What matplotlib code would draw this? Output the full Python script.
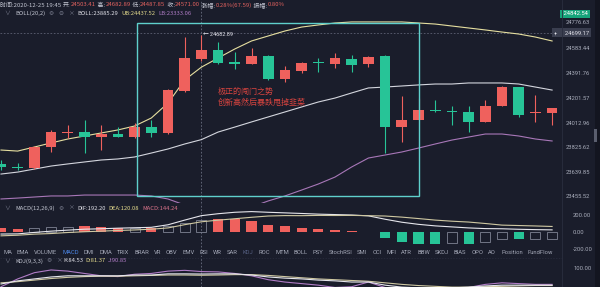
import matplotlib
matplotlib.use("Agg")
import matplotlib.pyplot as plt
from matplotlib.patches import Rectangle
from matplotlib.lines import Line2D

plt.rcParams['font.family'] = ['Roboto', 'Noto Sans CJK SC', 'DejaVu Sans']
CJK = ['Noto Sans CJK SC', 'DejaVu Sans']

# ---------------- data ----------------
opens = [23700, 23680, 23669, 23829, 23936, 23943, 23905, 23928, 23905, 23981,
         23936, 24256, 24503.41, 24568, 24477, 24462, 24523, 24347, 24408, 24472,
         24462, 24500, 24462, 24523, 23981, 24035, 24106, 24099, 24096, 24020,
         24141, 24286, 24085, 24088]
highs = [23730, 23707, 23835, 23958, 23997, 24035, 23997, 23981, 24012, 24035,
         24270, 24670, 24682.89, 24629, 24553, 24583, 24530, 24446, 24477, 24507,
         24545, 24530, 24520, 24530, 24218, 24202, 24187, 24141, 24141, 24187,
         24295, 24290, 24225, 24126]
lows = [23654, 23654, 23660, 23791, 23898, 23783, 23806, 23905, 23898, 23905,
        23930, 24250, 24487.85, 24462, 24423, 24462, 24340, 24324, 24393, 24400,
        24431, 24400, 24440, 23783, 23867, 24035, 24096, 23997, 23943, 24020,
        24141, 24058, 24020, 23997]
closes = [23676, 23672, 23829, 23943, 23946, 23905, 23928, 23905, 23981, 23936,
          24263, 24507, 24571.00, 24469, 24462, 24523, 24347, 24416, 24469, 24466,
          24507, 24454, 24515, 23981, 24035, 24111, 24100, 24094, 24020, 24141,
          24286, 24073, 24091, 24126]

boll_ub = [23806, 23798, 23829, 23860, 23890, 23913, 23936, 23959, 23989, 24050,
           24164, 24340, 24437.52, 24507, 24576, 24637, 24675, 24713, 24743, 24759,
           24774, 24782, 24782, 24782, 24782, 24774, 24766, 24751, 24736, 24721,
           24705, 24690, 24667, 24637]
boll_mid = [23623, 23638, 23661, 23684, 23700, 23715, 23730, 23738, 23753, 23783,
            23814, 23852, 23885.29, 23943, 23981, 24020, 24058, 24096, 24134, 24172,
            24202, 24241, 24279, 24286, 24294, 24302, 24309, 24309, 24317, 24317,
            24317, 24309, 24286, 24263]
boll_lb = [23433, 23440, 23448, 23456, 23456, 23463, 23463, 23463, 23463, 23456,
           23433, 23387, 23333.06, 23318, 23333, 23372, 23418, 23456, 23501, 23547,
           23600, 23677, 23745, 23768, 23791, 23821, 23852, 23882, 23905, 23928,
           23928, 23913, 23890, 23875]

price_ticks = [24583.44, 24391.76, 24201.57, 24012.96, 23825.62, 23639.85, 23455.52]
last_price = 24842.54
cross_price = 24776.63
line_price = 24699.17
peak_price = 24682.89
cross_index = 12

dif = [-24, -22, -5, 10, 22, 33, 38, 45, 50, 55, 85, 140, 192.20, 215, 232, 240,
       232, 225, 218, 210, 205, 200, 190, 150, 115, 90, 72, 60, 48, 40, 38, 32, 28, 25]
dea = [-45, -38, -25, -18, -6, 3, 10, 18, 24, 33, 48, 86, 120.08, 139, 156, 173,
       188, 193, 192, 195, 194, 195, 192, 188, 175, 158, 140, 127, 117, 100, 81, 76, 71, 65]
macd_hist = [43, 30, 43, 56, 56, 65, 56, 52, 52, 43, 74, 108, 144.24, 152, 152, 130,
             87, 65, 52, 30, 22, 9, -4, -74, -121, -137, -137, -134, -138, -121,
             -86, -88, -86, -79]
hist_hollow = [False, False, True, True, True, False, False, False, True, False,
               True, True, True, False, False, False, False, False, False, False,
               False, False, False, False, False, False, False, True, False, True,
               True, False, True, True]
macd_ticks = [200, 0, -200]

k_vals = [59, 67, 72, 77, 80, 80, 80, 80, 82, 82, 85, 85, 84.53, 85, 85, 82, 77,
          74, 72, 69, 67, 64, 64, 56, 51, 49, 49, 49, 51, 54, 56, 56, 56, 56]
d_vals = [62, 65, 69, 73, 76, 78, 79, 79, 80, 81, 82, 82, 81.37, 82, 83, 83, 81,
          78, 75, 72, 70, 68, 66, 62, 58, 55, 53, 51, 51, 52, 53, 54, 55, 55]
j_vals = [52, 72, 88, 95, 92, 86, 80, 78, 84, 86, 92, 94, 90.85, 90, 86, 80, 70,
          64, 60, 56, 50, 52, 64, 50, 42, 40, 42, 45, 50, 58, 62, 60, 58, 58]
kdj_ticks = [100]

indicator_tabs = ["MA", "EMA", "VOLUME", "MACD", "DMI", "DMA", "TRIX", "BRAR", "VR",
                  "OBV", "EMV", "RSI", "WR", "SAR", "KDJ", "ROC", "MTM", "BOLL", "PSY",
                  "StochRSI", "SMI", "CCI", "MFI", "ATR", "BBW", "SKDJ", "BIAS", "OPO",
                  "AO", "Position", "FundFlow"]

note_lines = ["极正的闯门之势", "创新高然后暴跌甩掉韭菜"]
# drawn box: candle-index span and price span
box_x = (8.14, 25.03)
box_y = (23455.5, 24774.0)

# ---------------- style ----------------
BG = '#1a1d2b'
UP = '#ef615d'
DOWN = '#27c497'
GREY = '#a9adbb'
WHITE = '#e2e2ea'
YELLOW = '#e2d98c'
PURPLE = '#b07cc6'
W, H = 600, 287

fig = plt.figure(figsize=(6, 2.87), dpi=100, facecolor=BG)


def px_axes(x0, y0, x1, y1):
    ax = fig.add_axes([x0 / W, 1 - y1 / H, (x1 - x0) / W, (y1 - y0) / H])
    ax.set_facecolor(BG)
    for s in ax.spines.values():
        s.set_visible(False)
    return ax


xlim = (-1 / 16.7, 561 / 16.7)
xs = list(range(len(opens)))

# ---------------- main candle panel ----------------
ax = px_axes(0, 0, 562, 203)
ax.set_xlim(*xlim)
ax.set_ylim(24583.44 - 155 * 7.62, 24583.44 + 48 * 7.62)
ax.set_xticks([])

ax.plot(xs, boll_ub, color='#e6dfa0', lw=0.8, zorder=2)
ax.plot(xs, boll_mid, color='#d4d6de', lw=0.8, zorder=2)
ax.plot(xs, boll_lb, color='#a877b8', lw=0.8, zorder=2)

for i in xs:
    o, h, l, c = opens[i], highs[i], lows[i], closes[i]
    col = UP if c >= o else DOWN
    ax.vlines(i, l, h, color=col, lw=0.8, zorder=3)
    body = max(abs(c - o), 8)
    ax.bar(i, body, bottom=min(o, c), width=0.64, color=col, zorder=4, linewidth=0)

ax.axhline(line_price, color='#5d6173', lw=0.6, ls=(0, (2, 2)), zorder=1)
ax.add_patch(Rectangle((box_x[0], box_y[0]), box_x[1] - box_x[0], box_y[1] - box_y[0],
                       fill=False, ec='#5fd0cc', lw=1.0, zorder=5))
ax.text(cross_index + 0.1, peak_price, '← ' + f'{peak_price:.2f}', fontsize=4,
        color=WHITE, va='center', ha='left', zorder=6)
ax.text(13.0, 24256, note_lines[0], fontsize=5.8, color='#d8443f',
        family=CJK, va='center', zorder=6)
ax.text(13.0, 24172, note_lines[1], fontsize=5.8, color='#d8443f',
        family=CJK, va='center', zorder=6)

ax.yaxis.tick_right()
ax.set_yticks(price_ticks)
ax.set_yticklabels([f'{v:.2f}' for v in price_ticks])
ax.tick_params(axis='y', length=0, pad=3, labelsize=4.2, labelcolor=GREY)

ytr = ax.get_yaxis_transform()
ax.text(1.0, last_price, ' ' + f'{last_price:.2f}', transform=ytr, fontsize=4.2,
        color='white', va='center', ha='left', clip_on=False,
        bbox=dict(boxstyle='square,pad=0.3', fc='#17a47b', ec='none'))
ax.text(1.006, cross_price, f'{cross_price:.2f}', transform=ytr, fontsize=4.2,
        color=GREY, va='center', ha='left', clip_on=False)
ax.text(0.985, line_price, '+     ' + f'{line_price:.2f}', transform=ytr, fontsize=4.2,
        color=WHITE, va='center', ha='left', clip_on=False, zorder=7,
        bbox=dict(boxstyle='square,pad=0.35', fc='#3a3e4f', ec='none'))

# ---------------- MACD panel ----------------
mx = px_axes(0, 203, 562, 257)
mx.set_xlim(*xlim)
mx.set_ylim((232 - 257) * 11.76, (232 - 203) * 11.76)
mx.set_xticks([])
for i in xs:
    v = macd_hist[i]
    base = UP if v >= 0 else DOWN
    if hist_hollow[i]:
        mx.bar(i, v, width=0.6, fill=False, ec='#7f8394', lw=0.6, zorder=3)
    else:
        mx.bar(i, v, width=0.6, color=base, lw=0, zorder=3)
mx.plot(xs, dif, color='#e6e6ec', lw=0.8, zorder=4)
mx.plot(xs, dea, color='#cfc8a2', lw=0.8, zorder=4)
mx.yaxis.tick_right()
mx.set_yticks(macd_ticks)
mx.set_yticklabels([f'{v:.2f}' for v in macd_ticks])
mx.tick_params(axis='y', length=0, pad=8, labelsize=4.2, labelcolor=GREY)

# ---------------- KDJ panel ----------------
kx = px_axes(0, 257, 562, 287)
kx.set_xlim(*xlim)
kx.set_ylim(100 - 19 / 0.39, 100 + 11 / 0.39)
kx.set_xticks([])
kx.plot(xs, j_vals, color=PURPLE, lw=0.8)
kx.plot(xs, d_vals, color='#cfc8a2', lw=0.8)
kx.plot(xs, k_vals, color='#e6e6ec', lw=0.8)
kx.yaxis.tick_right()
kx.set_yticks(kdj_ticks)
kx.set_yticklabels([f'{v:.2f}' for v in kdj_ticks])
kx.tick_params(axis='y', length=0, pad=8, labelsize=4.2, labelcolor=GREY)

for a in (ax, mx, kx):
    a.axvline(cross_index, color='#6b6f82', lw=0.6, ls=(0, (2, 2)), zorder=1)

# ---------------- frame pieces ----------------
fig.add_artist(Line2D([562 / W, 562 / W], [0, 1], color='#2a2e3f', lw=0.6))
fig.add_artist(Line2D([0, 562 / W], [1 - 257.5 / H, 1 - 257.5 / H], color='#2a2e3f', lw=0.5,
                      ls=(0, (2, 2))))
fig.add_artist(Rectangle((595 / W, 0), 5 / W, 1, transform=fig.transFigure,
                         fc='#131520', ec='none'))
fig.add_artist(Rectangle((594 / W, 1 - 142 / H), 3 / W, 13 / H, transform=fig.transFigure,
                         fc='#5a5e6e', ec='none'))

renderer = fig.canvas.get_renderer()


def seg_text(x_px, y_px, segments, size, gap=0.0, family=CJK):
    x = x_px
    for s, col in segments:
        t = fig.text(x / W, 1 - y_px / H, s, color=col, fontsize=size,
                     va='center', ha='left', family=family)
        x += t.get_window_extent(renderer).width + gap
    return x


LBL = '#c3c6d2'
VAL = '#e2625f'
DIM = '#7b7f90'
seg_text(0, 5, [("时间:2020-12-25 19:45 ", LBL), ("开:", LBL), ("24503.41", VAL),
                (" 高:", LBL), ("24682.89", VAL), (" 低:", LBL), ("24487.85", VAL),
                (" 收:", LBL), ("24571.00", VAL), (" 涨幅:", LBL), ("0.28%(67.59)", VAL),
                (" 振幅:", LBL), ("0.80%", VAL)], 4.3, gap=0.3)

seg_text(4, 13.5, [("∨", DIM)], 4.2)
seg_text(15, 13.5, [("BOLL(20,2)", LBL)], 4.2)
seg_text(48, 13.5, [("⚙", DIM)], 4.2, family=['DejaVu Sans'])
seg_text(58, 13.5, [("⊖", DIM)], 4.2, family=['DejaVu Sans'])
seg_text(69, 13.5, [("×", DIM)], 4.2)
seg_text(77, 13.5, [("BOLL:23885.29", WHITE), ("UB:24437.52", YELLOW),
                    ("LB:23333.06", PURPLE)], 4.2, gap=3.5)

seg_text(4, 208, [("∨", DIM)], 4.2)
seg_text(15, 208, [("MACD(12,26,9)", LBL)], 4.2)
seg_text(58, 208, [("⚙", DIM)], 4.2, family=['DejaVu Sans'])
seg_text(69, 208, [("×", DIM)], 4.2)
seg_text(77, 208, [("DIF:192.20", WHITE), ("DEA:120.08", YELLOW),
                   ("MACD:144.24", '#d9738a')], 4.2, gap=3.0)

seg_text(4, 261, [("∨", DIM)], 4.2)
seg_text(15, 261, [("KDJ(9,3,3)", LBL)], 4.2)
seg_text(46, 261, [("⚙", DIM)], 4.2, family=['DejaVu Sans'])
seg_text(57, 261, [("×", DIM)], 4.2)
seg_text(63, 261, [("K:84.53", WHITE), ("D:81.37", YELLOW), ("J:90.85", PURPLE)],
         4.2, gap=2.5)

# indicator tab row, spread evenly between the two ends
tab_cols = {"MACD": '#4b86e6', "KDJ": '#566082'}
tab_texts = [fig.text(0, 1 - 252 / H, s, fontsize=4.2, va='center', ha='left',
                      color=tab_cols.get(s, '#a3a7b6')) for s in indicator_tabs]
widths = [t.get_window_extent(renderer).width for t in tab_texts]
x0, x1 = 3, 553
gap = (x1 - x0 - sum(widths)) / (len(widths) - 1)
x = x0
for t, w in zip(tab_texts, widths):
    t.set_x(x / W)
    x += w + gap

fig.savefig('out.png', dpi=100, facecolor=BG)
